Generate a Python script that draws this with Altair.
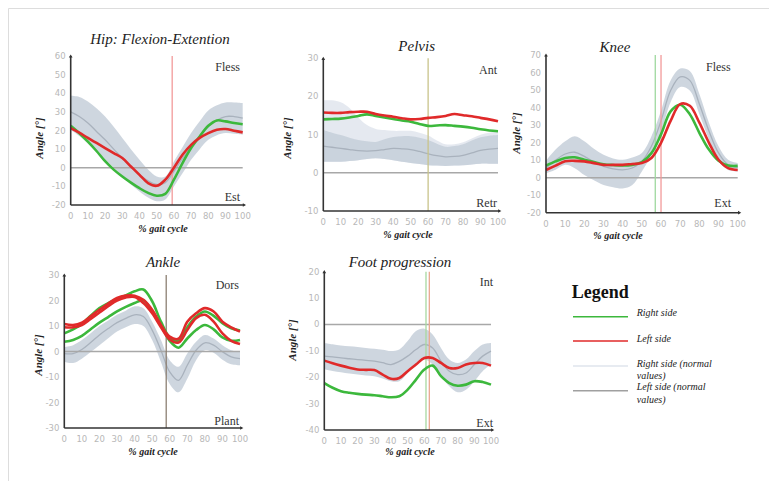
import altair as alt
import pandas as pd

# ---------------- data (x = % gait cycle) ----------------
X = list(range(0, 101, 5))

# Hip: Flexion-Extention
hip_right = [22.5, 18.5, 14, 9, 3.5, -1, -4.7, -8, -11, -13.5, -15, -14, -6.4, 2.5, 10.6, 16.8, 22.5, 25.4, 24.9, 24, 23.4]
hip_left = [21.3, 18.8, 16, 13.3, 10.6, 7.9, 5.2, 0.7, -3.8, -8.2, -9.7, -6.4, 0, 7, 12.3, 16, 18.6, 20.4, 20.8, 19.9, 19]
hip_norm = [30, 27.5, 24, 19.5, 15, 10, 5.2, 0.5, -3.8, -7, -9, -8, -2, 5, 11.5, 17, 22, 25.5, 27.5, 27.5, 26.7]
hip_hi = [38.6, 38, 35.6, 32, 27.5, 22, 16, 10, 4.3, -1, -4.7, -4.7, 3.4, 11, 18.6, 25, 30.8, 33.5, 35, 35, 34.7]
hip_lo = [20.4, 17, 13, 8.5, 4.3, 0, -4.7, -9, -12.7, -16, -18, -17, -10, -3, 4.3, 10, 15, 17.5, 18.6, 18.2, 17.7]

# Pelvis
pel_left = [15.8, 15.7, 15.7, 15.9, 16, 16, 15.4, 15, 14.7, 14.3, 14, 14.1, 14.4, 14.6, 14.9, 15.4, 15.1, 14.8, 14.4, 14, 13.5]
pel_right = [14, 14.1, 14.2, 14.5, 14.9, 15.3, 14.9, 14.5, 14.1, 13.7, 13.4, 12.8, 12.3, 12.4, 12.5, 12.3, 12.1, 11.8, 11.4, 11.1, 10.9]
pel_norm = [7, 6.7, 6.4, 6.1, 5.8, 5.7, 5.8, 6.1, 6.4, 6.3, 6.1, 5.6, 5, 4.5, 4.2, 4.3, 4.6, 5.2, 5.9, 6.2, 6.4]
pel_hi = [11.2, 10.5, 9.9, 9.2, 8.6, 8.3, 8.1, 8.8, 9.4, 9.6, 9.6, 9.2, 8.6, 7.6, 6.8, 7, 7.5, 8.5, 9.3, 9.7, 9.9]
pel_lo = [2.9, 2.9, 2.9, 3.1, 3.3, 3.6, 3.8, 3.6, 3.3, 2.9, 2.6, 2.3, 2, 1.9, 1.8, 1.9, 2, 2.2, 2.4, 2.4, 2.4]
pel_hi2 = [19, 19, 18.5, 17, 14.5, 12.5, 11.5, 11.2, 11, 11, 11, 10.5, 9.8, 8.5, 7.5, 7.5, 8, 9, 10, 10.5, 11]

# Knee
knee_right = [6.9, 9.3, 11.2, 11.6, 10.2, 8.9, 7.7, 7.2, 6.9, 7.3, 8.9, 14, 24.7, 37.8, 41.6, 36.2, 25.6, 16, 9.6, 6.9, 6.7]
knee_left = [4.4, 6.9, 9.3, 9.6, 9.3, 8.3, 7.3, 7.3, 7.3, 7.8, 8.3, 11.2, 19.9, 32.4, 42, 41, 31.4, 19.9, 10.2, 5.4, 4.4]
knee_norm = [5.4, 10, 13.5, 14.5, 12.1, 9, 6.4, 5, 4.4, 5.5, 9.3, 17.9, 32.4, 49.7, 57.5, 55.5, 42, 26.6, 14.1, 7.3, 5.8]
knee_hi = [9.6, 16, 20.8, 23.7, 20.8, 16.5, 13.1, 11, 10.2, 11.5, 14.1, 23.7, 38.2, 55.5, 62.3, 60.9, 47.8, 31.4, 17.9, 10.2, 8.3]
knee_lo = [2.5, 4.5, 7.3, 5.4, 1.5, -1.5, -4.2, -5.5, -6.2, -4.2, 3.5, 13.1, 25.6, 43, 51.7, 49.7, 36.2, 21.8, 9.3, 4.4, 3.5]

# Ankle (two trials per side)
ank_right1 = [7.1, 8.7, 10.8, 14, 17, 19, 20.6, 22, 23.6, 24.3, 19.7, 11.7, 5.5, 4.2, 9.5, 13.7, 15.7, 14, 11.1, 9.1, 8.2]
ank_right2 = [3.8, 4.5, 6.1, 8.7, 11.3, 13.5, 15.7, 17.5, 19, 20.1, 15.7, 10.4, 4.2, 1.5, 5.1, 8.4, 10.4, 8.7, 5.5, 4.2, 4.5]
ank_left1 = [10.8, 10.4, 11.3, 13.8, 16.4, 18.8, 21, 21.9, 21.9, 20.3, 16.4, 10.4, 5.8, 5, 11.7, 15, 17, 15.7, 11.7, 9.5, 7.8]
ank_left2 = [9.5, 9.5, 10.4, 12.8, 15.3, 17.8, 20, 21.2, 21.4, 19, 15, 9.5, 4.7, 3.5, 8.4, 13.1, 14.4, 11.7, 7.1, 4.2, 2.9]
ank_norm = [-0.8, -0.8, 0.8, 3.5, 6.5, 9, 11.3, 13, 14.4, 13.7, 8.4, 0.5, -8, -11.3, -5.4, 0.5, 3.4, 2.5, -0.1, -2.1, -2.8]
ank_hi = [1.8, 2.5, 4.5, 7.2, 10, 12.2, 14.4, 16, 17.7, 17, 11.7, 4.5, -3.4, -6, -0.8, 3.8, 6.5, 5.1, 2.5, 0.5, -0.1]
ank_lo = [-4.1, -4.5, -2.8, -0.2, 2.5, 5.2, 7.8, 9.5, 10.8, 10, 4.5, -4.1, -12.7, -16, -10.7, -3.4, 0.5, -0.5, -3.2, -5, -5.4]

# Foot progression
foot_left = [-13.7, -14.7, -15.6, -16.4, -17.1, -17.2, -17.3, -19, -20.6, -20.3, -17.7, -15.2, -12.7, -12.7, -14.6, -16.5, -16.5, -15.2, -14.6, -14.6, -15.6]
foot_right = [-22.2, -24, -25.3, -25.9, -26.3, -26.6, -26.8, -27.2, -27.6, -27.2, -24.7, -20.9, -17.1, -15.6, -19.6, -22.2, -23.2, -22.8, -21.5, -21.8, -22.8]
foot_norm = [-12, -12.3, -12.7, -13, -13.3, -13.6, -13.9, -14.5, -15.2, -14, -12, -9.5, -7.6, -8.9, -13.9, -17.7, -19, -18.4, -15.2, -12, -10.1]
foot_hi = [-7, -7.5, -8, -8.3, -8.5, -8.9, -9.2, -9.6, -10.1, -9.5, -6.3, -2.5, -1.6, -3.8, -8.9, -13.3, -14.6, -13.3, -10.1, -7.6, -7]
foot_lo = [-17.1, -17.6, -18.1, -18.6, -19, -19.3, -19.6, -20.5, -21.5, -21.5, -18.4, -15.2, -13.3, -15.2, -19.6, -23.4, -25.7, -24.7, -21.5, -17.7, -15.2]

X_TICKS = [0, 10, 20, 30, 40, 50, 60, 70, 80, 90, 100]

# ---------------- style ----------------
GREEN = "#3cb83c"
RED = "#e02a2a"
BAND = "#c6cfd9"
BAND_LIGHT = "#e2e7ee"
MEAN = "#a9b2bd"
SERIF = "Liberation Serif"
TICK_FONT = "DejaVu Sans"
TICK_COLOR = "#b8b8b8"
INTERP = "catmull-rom"

panels = [
    dict(xr=[62.7, 234.7], yd=[-20, 60], yr=[197, 48], yticks=list(range(-20, 61, 10)),
         band=(hip_lo, hip_hi), band2=None, norm=hip_norm,
         green=[hip_right], red=[hip_left], vlines=[(59, "#f29a9a")]),
    dict(xr=[315.3, 490], yd=[-10, 30], yr=[203, 50.3], yticks=list(range(-10, 31, 10)),
         band=(pel_lo, pel_hi), band2=(pel_lo, pel_hi2), norm=pel_norm,
         green=[pel_right], red=[pel_left], vlines=[(60, "#c9c38a")]),
    dict(xr=[538, 729.7], yd=[-20, 70], yr=[204.7, 47], yticks=list(range(-20, 71, 10)),
         band=(knee_lo, knee_hi), band2=None, norm=knee_norm,
         green=[knee_right], red=[knee_left], vlines=[(57, "#9fd89f"), (60, "#f29a9a")]),
    dict(xr=[56.3, 232], yd=[-30, 30], yr=[420, 267], yticks=list(range(-30, 31, 10)),
         band=(ank_lo, ank_hi), band2=None, norm=ank_norm,
         green=[ank_right1, ank_right2], red=[ank_left1, ank_left2], vlines=[(58, "#8c7f72")]),
    dict(xr=[316.3, 483], yd=[-40, 20], yr=[422, 263.7], yticks=list(range(-40, 21, 10)),
         band=(foot_lo, foot_hi), band2=None, norm=foot_norm,
         green=[foot_right], red=[foot_left], vlines=[(61, "#a8d8a0"), (63, "#eaa890")]),
]


def make_panel(p):
    xs = alt.Scale(domain=[0, 100], range=p["xr"], nice=False, zero=False)
    ys = alt.Scale(domain=p["yd"], range=p["yr"], nice=False, zero=False)

    def ex(f="x"):
        return alt.X(f + ":Q", scale=xs, axis=None)

    def ey(f="y"):
        return alt.Y(f + ":Q", scale=ys, axis=None)

    ymin, ymax = p["yd"]
    layers = []
    if p["band2"] is not None:
        lo2, hi2 = p["band2"]
        layers.append(alt.Chart(pd.DataFrame({"x": X, "lo": lo2, "hi": hi2}))
                      .mark_area(color=BAND_LIGHT, opacity=0.9, interpolate=INTERP)
                      .encode(x=ex(), y=ey("lo"), y2="hi"))
    lo, hi = p["band"]
    layers.append(alt.Chart(pd.DataFrame({"x": X, "lo": lo, "hi": hi}))
                  .mark_area(color=BAND, opacity=0.85, interpolate=INTERP)
                  .encode(x=ex(), y=ey("lo"), y2="hi"))
    layers.append(alt.Chart(pd.DataFrame({"x": X, "y": p["norm"]}))
                  .mark_line(color=MEAN, strokeWidth=1.3, interpolate=INTERP)
                  .encode(x=ex(), y=ey()))
    # zero line
    layers.append(alt.Chart(pd.DataFrame({"x": [0], "x2": [100], "y": [0]}))
                  .mark_rule(color="#a8a8a8", strokeWidth=1.5)
                  .encode(x=ex(), x2="x2", y=ey()))
    # vertical event lines
    for v, c in p["vlines"]:
        layers.append(alt.Chart(pd.DataFrame({"x": [v], "y": [ymin], "y2": [ymax]}))
                      .mark_rule(color=c, strokeWidth=1.3)
                      .encode(x=ex(), y=ey(), y2="y2"))
    for vals in p["green"]:
        layers.append(alt.Chart(pd.DataFrame({"x": X, "y": vals}))
                      .mark_line(color=GREEN, strokeWidth=2.6, interpolate=INTERP)
                      .encode(x=ex(), y=ey()))
    for vals in p["red"]:
        layers.append(alt.Chart(pd.DataFrame({"x": X, "y": vals}))
                      .mark_line(color=RED, strokeWidth=2.6, interpolate=INTERP)
                      .encode(x=ex(), y=ey()))
    # axis lines
    layers.append(alt.Chart(pd.DataFrame({"x": [0], "y": [ymin], "y2": [ymax]}))
                  .mark_rule(color="#333333", strokeWidth=1.6)
                  .encode(x=ex(), y=ey(), y2="y2"))
    layers.append(alt.Chart(pd.DataFrame({"x": [0], "x2": [101], "y": [ymin]}))
                  .mark_rule(color="#333333", strokeWidth=1.6)
                  .encode(x=ex(), x2="x2", y=ey()))
    layers.append(alt.Chart(pd.DataFrame({"x": [0], "y": [ymax]}))
                  .mark_point(shape="triangle-up", filled=True, size=14, color="#333333", opacity=1)
                  .encode(x=ex(), y=ey()))
    layers.append(alt.Chart(pd.DataFrame({"x": [101], "y": [ymin]}))
                  .mark_point(shape="triangle-right", filled=True, size=14, color="#333333", opacity=1)
                  .encode(x=ex(), y=ey()))
    # tick labels
    layers.append(alt.Chart(pd.DataFrame({"x": [0] * len(p["yticks"]), "y": p["yticks"],
                                          "t": [str(t) for t in p["yticks"]]}))
                  .mark_text(align="right", baseline="middle", dx=-5, font=TICK_FONT,
                             fontSize=8.5, color=TICK_COLOR)
                  .encode(x=ex(), y=ey(), text="t:N"))
    layers.append(alt.Chart(pd.DataFrame({"x": X_TICKS, "y": [ymin] * len(X_TICKS),
                                          "t": [str(t) for t in X_TICKS]}))
                  .mark_text(align="center", baseline="middle", dy=11, font=TICK_FONT,
                             fontSize=8.5, color=TICK_COLOR)
                  .encode(x=ex(), y=ey(), text="t:N"))
    return alt.layer(*layers)


def txt(s, x, y, size=12, style="normal", weight="normal", align="center", angle=0, color="#222222"):
    kw = dict(text=s, align=align, baseline="middle", font=SERIF, fontSize=size,
              fontStyle=style, fontWeight=weight, color=color)
    if angle:
        kw["angle"] = angle
    return alt.Chart(pd.DataFrame({"a": [0]})).mark_text(**kw).encode(
        x=alt.value(x), y=alt.value(y))


def seg(x1, x2, y, color, w=2):
    return alt.Chart(pd.DataFrame({"a": [0]})).mark_rule(color=color, strokeWidth=w).encode(
        x=alt.value(x1), x2=alt.value(x2), y=alt.value(y))


texts = [
    # panel titles
    txt("Hip: Flexion-Extention", 152, 31.3, 15, "italic"),
    txt("Pelvis", 408.7, 38, 15, "italic"),
    txt("Knee", 607, 39, 15, "italic"),
    txt("Ankle", 155, 253.7, 15, "italic"),
    txt("Foot progression", 392, 254, 15, "italic"),
    # direction annotations
    txt("Fless", 232, 58.7, 12, align="right", color="#333333"),
    txt("Est", 232, 188.7, 12, align="right", color="#333333"),
    txt("Ant", 489, 62, 12, align="right", color="#333333"),
    txt("Retr", 489, 195, 12, align="right", color="#333333"),
    txt("Fless", 722.7, 59, 12, align="right", color="#333333"),
    txt("Ext", 723, 194.7, 12, align="right", color="#333333"),
    txt("Dors", 231, 277, 12, align="right", color="#333333"),
    txt("Plant", 231, 413, 12, align="right", color="#333333"),
    txt("Int", 485, 274.3, 12, align="right", color="#333333"),
    txt("Ext", 485, 414.7, 12, align="right", color="#333333"),
    # axis titles
    txt("Angle [°]", 32, 130, 11, "italic", "bold", angle=270),
    txt("Angle [°]", 280, 130, 11, "italic", "bold", angle=270),
    txt("Angle [°]", 509, 125, 11, "italic", "bold", angle=270),
    txt("Angle [°]", 31, 347, 11, "italic", "bold", angle=270),
    txt("Angle [°]", 285, 332, 11, "italic", "bold", angle=270),
    txt("% gait cycle", 155, 221.3, 10, "italic", "bold"),
    txt("% gait cycle", 400, 227, 10, "italic", "bold"),
    txt("% gait cycle", 610, 228, 10, "italic", "bold"),
    txt("% gait cycle", 145, 443.7, 10, "italic", "bold"),
    txt("% gait cycle", 402, 444, 10, "italic", "bold"),
    # legend
    txt("Legend", 563.7, 284.7, 18, weight="bold", align="left", color="#111111"),
    seg(565, 620, 308.7, GREEN, 1.6),
    seg(565, 620, 333, RED, 1.6),
    seg(565, 620, 358, "#dfe5ec", 1.6),
    seg(565, 620, 382.7, "#a0a0a0", 1.6),
    txt("Right side", 628.7, 305, 10, "italic", align="left"),
    txt("Left side", 628.7, 331, 10, "italic", align="left"),
    txt("Right side (normal", 628.7, 356, 10, "italic", align="left"),
    txt("values)", 628.7, 368, 10, "italic", align="left"),
    txt("Left side (normal", 628.7, 379, 10, "italic", align="left"),
    txt("values)", 628.7, 392, 10, "italic", align="left"),
]

chart = (
    alt.layer(*[make_panel(p) for p in panels], alt.layer(*texts))
    .resolve_scale(x="independent", y="independent")
    .properties(width=761, height=473, autosize=alt.AutoSizeParams(type="none"), padding=0)
    .configure_view(stroke="#9a9a9a", strokeWidth=2)
    .configure(background="white")
)

chart.save("out.html", embed_options={"renderer": "svg", "actions": False})
